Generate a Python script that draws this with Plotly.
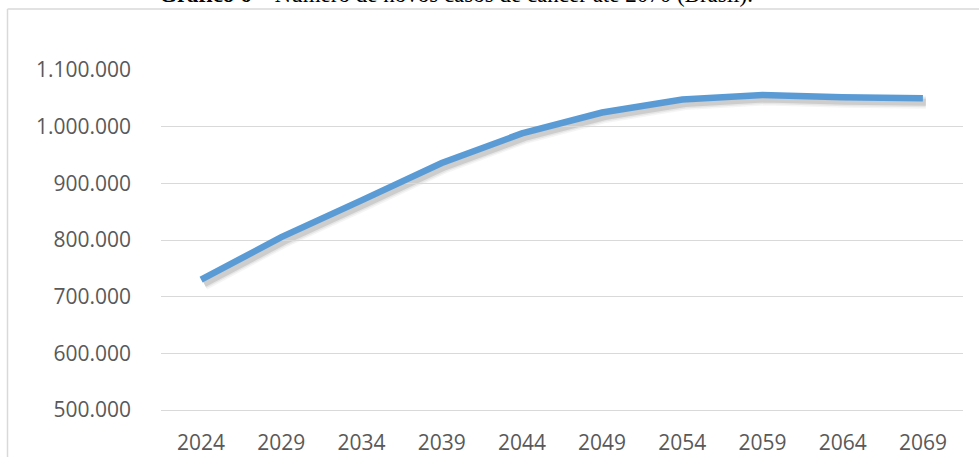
import plotly.graph_objects as go

# Projected number of new cancer cases in Brazil, every five years
years = ["2024", "2029", "2034", "2039", "2044", "2049", "2054", "2059", "2064", "2069"]
new_cases = [730000, 805000, 870000, 936000, 988000, 1025000, 1048000, 1056000, 1052000, 1050000]
y_ticks = [500000, 600000, 700000, 800000, 900000, 1000000, 1100000]

title_text = ("<b>Gráfico 6</b> – Número de novos casos de câncer até 2070 (Brasil).")

W, H = 979, 457
ML, MR, MT, MB = 161, 13, 70, 43
PW, PH = W - ML - MR, H - MT - MB
SHADOW_DX, SHADOW_DY = 3, 4


def px_x(p):
    return (p - ML) / PW


def px_y(p):
    return (H - MB - p) / PH


fig = go.Figure()

# soft drop shadow under the series line (drawn on a slightly shifted axis pair)
for width, alpha in [(13, 0.05), (10, 0.08), (7, 0.14)]:
    fig.add_trace(go.Scatter(
        x=years, y=new_cases, mode="lines",
        line=dict(color=f"rgba(60,60,60,{alpha})", width=width),
        xaxis="x", yaxis="y", hoverinfo="skip", showlegend=False,
    ))

# main series
fig.add_trace(go.Scatter(
    x=years, y=new_cases, mode="lines",
    line=dict(color="#5B9BD5", width=6.5),
    xaxis="x2", yaxis="y2", showlegend=False,
))

axis_font = dict(family="Open Sans", size=21, color="#595959")
y_range = [500000, 1100000]

fig.update_layout(
    width=W, height=H,
    margin=dict(l=ML, r=MR, t=MT, b=MB, pad=0, autoexpand=False),
    paper_bgcolor="white", plot_bgcolor="rgba(0,0,0,0)",
    separators=",.",
    xaxis=dict(type="category", range=[-0.5, 9.5], visible=False,
               domain=[SHADOW_DX / PW, 1], automargin=False),
    yaxis=dict(range=y_range, visible=False,
               domain=[0, 1 - SHADOW_DY / PH], automargin=False),
    xaxis2=dict(type="category", range=[-0.5, 9.5], anchor="y2",
                domain=[0, 1 - SHADOW_DX / PW], automargin=False,
                showgrid=False, showline=True, linecolor="#D9D9D9", linewidth=1,
                ticks="", tickfont=axis_font, ticklabelstandoff=14),
    yaxis2=dict(range=y_range, anchor="x2", automargin=False,
                domain=[SHADOW_DY / PH, 1],
                tickvals=y_ticks, tickformat=",d",
                showgrid=True, gridcolor="#D9D9D9", gridwidth=1,
                zeroline=False, showline=False, ticks="",
                tickfont=axis_font, ticklabelstandoff=29),
    annotations=[dict(
        text=title_text, xref="paper", yref="paper",
        x=px_x(456), y=px_y(-6), xanchor="center", yanchor="middle",
        showarrow=False,
        font=dict(family="Liberation Serif", size=23, color="black"),
    )],
    shapes=[
        # chart area frame (top and left edges)
        dict(type="line", xref="paper", yref="paper",
             x0=px_x(7.5), x1=px_x(990), y0=px_y(9), y1=px_y(9),
             line=dict(color="#D9D9D9", width=1.5)),
        dict(type="line", xref="paper", yref="paper",
             x0=px_x(7.5), x1=px_x(7.5), y0=px_y(9), y1=px_y(470),
             line=dict(color="#D9D9D9", width=1.5)),
    ],
)

fig.write_html("out.html")
